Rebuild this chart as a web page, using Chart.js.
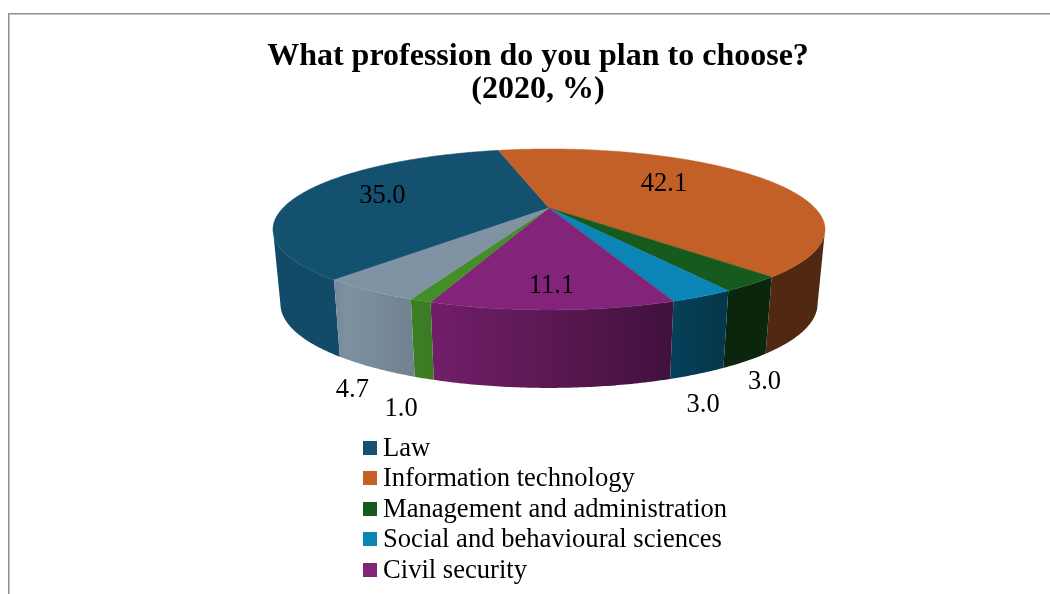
<!DOCTYPE html>
<html>
<head>
<meta charset="utf-8">
<title>What profession do you plan to choose?</title>
<script src="https://cdn.jsdelivr.net/npm/chart.js@4"></script>
<style>
  html, body { margin: 0; width: 1050px; height: 594px; overflow: hidden; background: #fff; }
  #frame { position: absolute; left: 8px; top: 13px; width: 1100px; height: 700px;
           border-left: 1px solid #8f8f8f; border-top: 1px solid #8f8f8f; box-shadow: inset 1px 1px #c4c4c4; }
  #pie { position: absolute; left: 0; top: 0; }
  #legend { position: absolute; left: 363px; top: 431.5px; font: 26.6px "Liberation Serif", "Times New Roman", serif; color: #000; }
  #legend div { height: 30.6px; line-height: 30.6px; white-space: nowrap; }
  #legend i { display: inline-block; position: relative; top: -1px; width: 14px; height: 14px; margin-right: 6px; }
</style>
</head>
<body>
<div id="frame"></div>
<canvas id="pie" width="1050" height="594"></canvas>
<div id="legend"></div>
<script>
// Data
const titleLines = ["What profession do you plan to choose?", "(2020, %)"];
const categories = ["Law", "Information technology", "Management and administration", "Social and behavioural sciences", "Civil security"];
const values = [35.0, 42.1, 3.0, 3.0, 11.1, 1.0, 4.7];
const colors = ["#13516f", "#c26028", "#175a1e", "#0b85b5", "#84237a", "#448e28", "#7f93a3"];

// Where each value label goes: radius along the slice middle, then a nudge in px
const labelRadius = [0.69, 0.6, 1, 1, 0.8, 1, 1];
const labelNudgeX = [5, -16, 13, 1, 0, -19.5, -16.5];
const labelNudgeY = [-1, -4, 98, 109, 2, 108, 100];

// Tilted disc seen in perspective
const tiltY = 0.281;      // flattening of the disc
const persp = 0.267;      // far side shrinks, near side grows
const centerShiftX = 11;  // title is not centred over the pie
const wallTop = 73;       // wall height at the middle of the disc
const wallGrow = 5;       // extra height towards the viewer
const wallInset = 0.973;  // lower rim is a bit narrower

function project(arc, angle, r) {
  const u = Math.cos(angle) * r, v = Math.sin(angle) * r;
  const w = 1 - persp * v;
  return {
    x: arc.x + centerShiftX + arc.outerRadius * u / w,
    y: arc.y + arc.outerRadius * tiltY * v / w,
    v: v
  };
}

function lowerRim(arc, p) {
  return {
    x: arc.x + centerShiftX + (p.x - arc.x - centerShiftX) * wallInset,
    y: p.y + wallTop + wallGrow * p.v
  };
}

// Wall gets darker from left to right
function shade(x) {
  if (x < 340) return 0.93;
  if (x < 670) return 1 - 0.5 * (x - 340) / 330;
  return Math.max(0.42, 0.5 - 0.1 * (x - 670) / 55);
}

function darken(hex, f) {
  const n = parseInt(hex.slice(1), 16);
  const c = [n >> 16, (n >> 8) & 255, n & 255].map(ch => Math.round(ch * f));
  return `rgb(${c[0]},${c[1]},${c[2]})`;
}

// Slices are the library's own arc elements, only drawn through the tilt
Chart.ArcElement.prototype.draw = function (ctx) {
  const steps = Math.max(2, Math.ceil((this.endAngle - this.startAngle) / 0.01));
  ctx.beginPath();
  const c = project(this, 0, 0);
  ctx.moveTo(c.x, c.y);
  for (let i = 0; i <= steps; i++) {
    const p = project(this, this.startAngle + (this.endAngle - this.startAngle) * i / steps, 1);
    ctx.lineTo(p.x, p.y);
  }
  ctx.closePath();
  ctx.fillStyle = this.options.backgroundColor;
  ctx.fill();
  ctx.strokeStyle = this.options.backgroundColor;
  ctx.lineWidth = 0.5;
  ctx.stroke();
};

const wallsPlugin = {
  id: "walls",
  beforeDatasetsDraw(chart) {
    const ctx = chart.ctx;
    chart.getDatasetMeta(0).data.forEach((arc, i) => {
      const top = [];
      const steps = Math.ceil((arc.endAngle - arc.startAngle) / 0.01);
      for (let s = 0; s <= steps; s++) {
        const p = project(arc, arc.startAngle + (arc.endAngle - arc.startAngle) * s / steps, 1);
        if (p.v >= persp) top.push(p); // rim is widest at v = persp, the rest is hidden
      }
      if (top.length < 2) return;
      const bottom = top.map(p => lowerRim(arc, p));
      const xs = top.concat(bottom).map(p => p.x);
      const x0 = Math.min(...xs), x1 = Math.max(...xs);
      const grad = ctx.createLinearGradient(x0, 0, x1, 0);
      for (let k = 0; k <= 6; k++) {
        grad.addColorStop(k / 6, darken(colors[i], shade(x0 + (x1 - x0) * k / 6)));
      }
      ctx.beginPath();
      top.forEach((p, k) => k ? ctx.lineTo(p.x, p.y) : ctx.moveTo(p.x, p.y));
      bottom.reverse().forEach(p => ctx.lineTo(p.x, p.y));
      ctx.closePath();
      ctx.fillStyle = grad;
      ctx.fill();
    });
  }
};

const valueLabels = {
  id: "valueLabels",
  afterDatasetsDraw(chart) {
    const ctx = chart.ctx;
    ctx.save();
    ctx.font = '26.5px "Liberation Serif", "Times New Roman", serif';
    ctx.fillStyle = "#000";
    ctx.textAlign = "center";
    ctx.textBaseline = "middle";
    chart.getDatasetMeta(0).data.forEach((arc, i) => {
      const p = project(arc, (arc.startAngle + arc.endAngle) / 2, labelRadius[i]);
      ctx.fillText(values[i].toFixed(1), p.x + labelNudgeX[i], p.y + labelNudgeY[i]);
    });
    ctx.restore();
  }
};

new Chart(document.getElementById("pie"), {
  type: "pie",
  data: {
    labels: categories.concat(["", ""]),
    datasets: [{ data: values, backgroundColor: colors, borderWidth: 0 }]
  },
  options: {
    responsive: false,
    animation: false,
    rotation: -140,
    radius: 266,
    layout: { padding: { left: 26, bottom: 284 } },
    plugins: {
      legend: { display: false },
      tooltip: { enabled: false },
      title: {
        display: true,
        text: titleLines,
        color: "#000",
        font: { family: '"Liberation Serif", "Times New Roman", serif', size: 32, weight: "bold", lineHeight: 1.03 },
        padding: { top: 40, bottom: 0 }
      }
    }
  },
  plugins: [wallsPlugin, valueLabels]
});

// Legend, only the five rows that fit in the picture
const legend = document.getElementById("legend");
categories.forEach((name, i) => {
  const row = document.createElement("div");
  const box = document.createElement("i");
  box.style.background = colors[i];
  row.appendChild(box);
  row.appendChild(document.createTextNode(name));
  legend.appendChild(row);
});
</script>
</body>
</html>
